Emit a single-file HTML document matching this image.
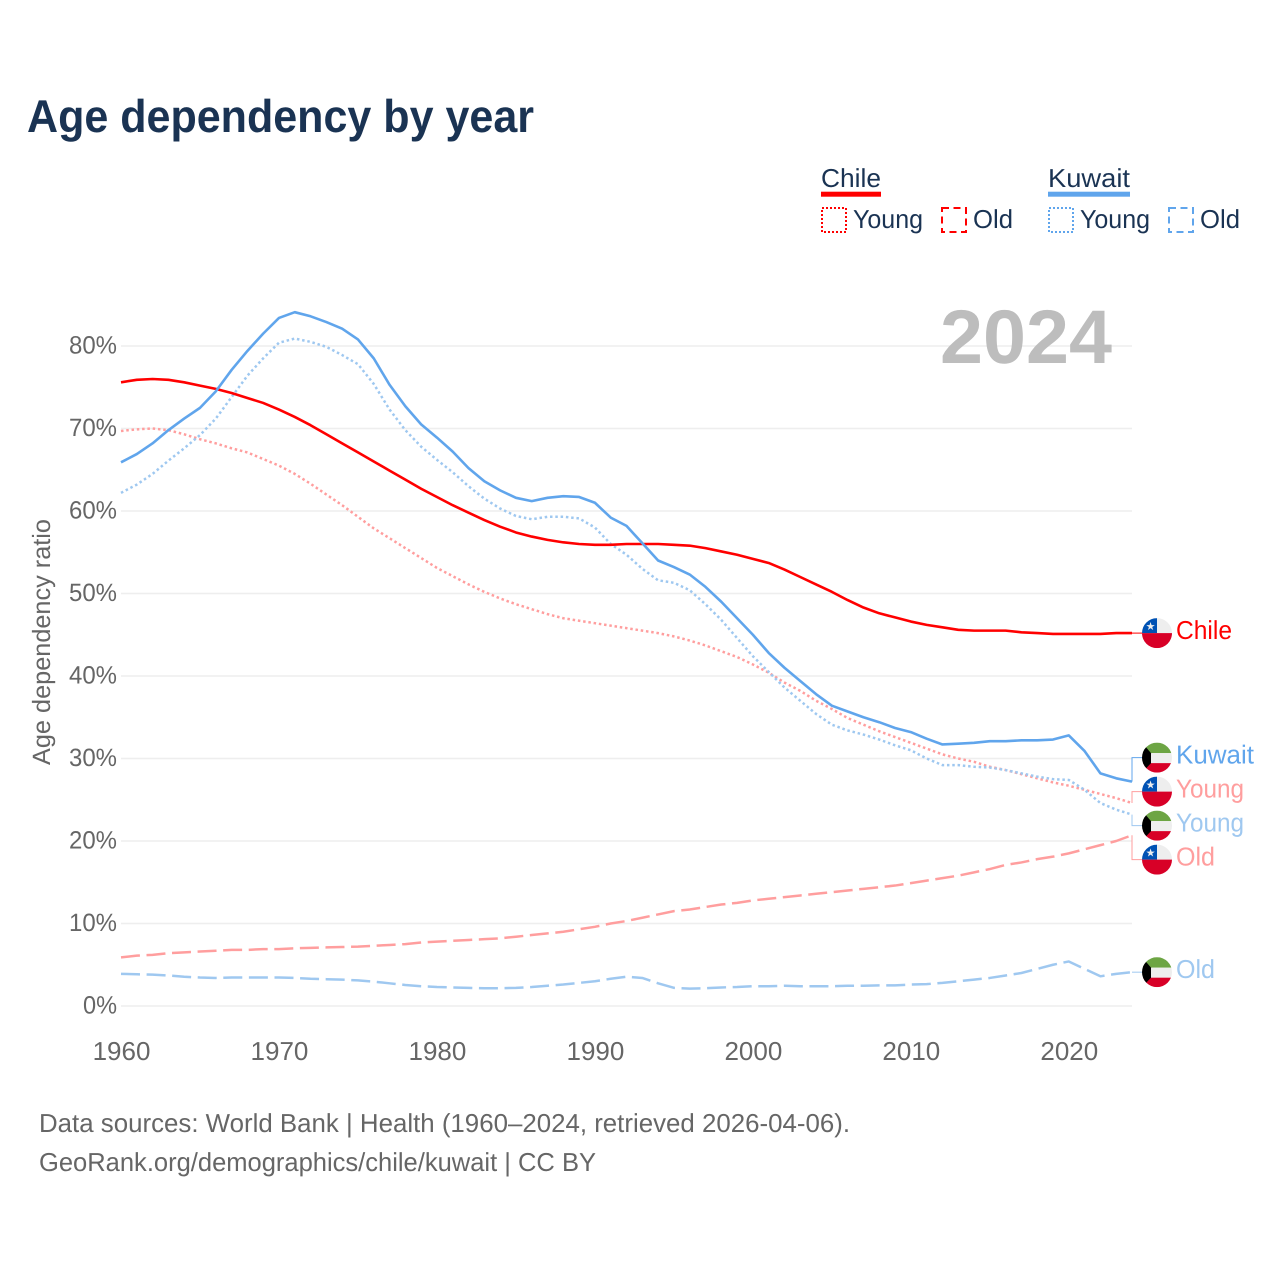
<!DOCTYPE html>
<html lang="en">
<head>
<meta charset="utf-8">
<title>Age dependency by year</title>
<style>
html,body{margin:0;padding:0;background:#fff}
svg{display:block;font-family:"Liberation Sans",sans-serif;text-rendering:geometricPrecision}
</style>
</head>
<body>
<svg id="chart" xmlns="http://www.w3.org/2000/svg" width="1280" height="1280" viewBox="0 0 1280 1280">
  <rect width="1280" height="1280" fill="#fff"/>
  <text x="27" y="132" font-size="46" font-weight="700" fill="#1a3353" textLength="507" lengthAdjust="spacingAndGlyphs">Age dependency by year</text>

  <g font-size="26" fill="#1a3353">
    <text x="821" y="187" textLength="60" lengthAdjust="spacingAndGlyphs">Chile</text>
    <rect x="821" y="191.7" width="60" height="5" fill="#ff0000"/>
    <rect x="822" y="208" width="24" height="24" fill="none" stroke="#ff0000" stroke-width="2" stroke-dasharray="2 2"/>
    <text x="853" y="228" textLength="70" lengthAdjust="spacingAndGlyphs">Young</text>
    <rect x="942" y="208" width="24" height="24" fill="none" stroke="#ff0000" stroke-width="2" stroke-dasharray="7 4.5"/>
    <text x="973" y="228" textLength="40" lengthAdjust="spacingAndGlyphs">Old</text>
    <text x="1048" y="187" textLength="82" lengthAdjust="spacingAndGlyphs">Kuwait</text>
    <rect x="1048" y="191.7" width="82" height="5" fill="#60a5ec"/>
    <rect x="1049" y="208" width="24" height="24" fill="none" stroke="#60a5ec" stroke-width="2" stroke-dasharray="2 2"/>
    <text x="1080" y="228" textLength="70" lengthAdjust="spacingAndGlyphs">Young</text>
    <rect x="1169" y="208" width="24" height="24" fill="none" stroke="#60a5ec" stroke-width="2" stroke-dasharray="7 4.5"/>
    <text x="1200" y="228" textLength="40" lengthAdjust="spacingAndGlyphs">Old</text>
  </g>

  <g id="grid"></g>
  <text x="1112" y="363" text-anchor="end" font-size="76" font-weight="700" fill="#bdbdbd" textLength="172" lengthAdjust="spacingAndGlyphs">2024</text>
  <g id="yticks"></g>
  <g id="xticks"></g>
  <text transform="translate(50,642) rotate(-90)" text-anchor="middle" font-size="25" fill="#666" textLength="246" lengthAdjust="spacingAndGlyphs">Age dependency ratio</text>
  <g id="series"></g>
  <g id="endlabels"></g>

  <text x="39" y="1132" font-size="26" fill="#666" textLength="811" lengthAdjust="spacingAndGlyphs">Data sources: World Bank | Health (1960–2024, retrieved 2026-04-06).</text>
  <text x="39" y="1171" font-size="26" fill="#666" textLength="557" lengthAdjust="spacingAndGlyphs">GeoRank.org/demographics/chile/kuwait | CC BY</text>
</svg>
<script>
const startYear = 1960;
const endYear = 2024;
const yTickValues = [0, 10, 20, 30, 40, 50, 60, 70, 80];
const xTickValues = [1960, 1970, 1980, 1990, 2000, 2010, 2020];

const chileTotal = [75.6,75.9,76.0,75.9,75.6,75.2,74.8,74.3,73.7,73.1,72.3,71.4,70.4,69.3,68.2,67.1,66.0,64.9,63.8,62.7,61.7,60.7,59.8,58.9,58.1,57.4,56.9,56.5,56.2,56.0,55.9,55.9,56.0,56.0,56.0,55.9,55.8,55.5,55.1,54.7,54.2,53.7,52.9,52.0,51.1,50.2,49.2,48.3,47.6,47.1,46.6,46.2,45.9,45.6,45.5,45.5,45.5,45.3,45.2,45.1,45.1,45.1,45.1,45.2,45.2];
const chileYoung = [69.7,69.9,70.0,69.8,69.3,68.7,68.2,67.6,67.1,66.3,65.5,64.5,63.3,62.0,60.7,59.3,57.9,56.7,55.5,54.3,53.1,52.1,51.1,50.2,49.4,48.7,48.1,47.5,47.0,46.7,46.4,46.1,45.8,45.5,45.2,44.8,44.3,43.7,43.0,42.3,41.4,40.4,39.2,38.2,37.0,36.0,34.9,34.1,33.3,32.6,31.9,31.2,30.5,30.0,29.6,29.0,28.6,28.1,27.6,27.1,26.7,26.2,25.7,25.2,24.6];
const chileOld = [5.9,6.1,6.2,6.4,6.5,6.6,6.7,6.8,6.8,6.9,6.9,7.0,7.05,7.1,7.15,7.2,7.3,7.4,7.5,7.7,7.8,7.9,8.0,8.1,8.2,8.4,8.6,8.8,9.0,9.3,9.6,10.0,10.3,10.7,11.1,11.5,11.7,12.0,12.3,12.5,12.8,13.0,13.2,13.4,13.6,13.8,14.0,14.2,14.4,14.6,14.9,15.2,15.5,15.8,16.2,16.6,17.1,17.4,17.8,18.1,18.5,19.0,19.5,20.0,20.7];
const kuwaitTotal = [65.9,66.9,68.2,69.8,71.2,72.5,74.5,77.1,79.4,81.5,83.4,84.1,83.6,82.9,82.1,80.8,78.5,75.3,72.7,70.5,68.9,67.2,65.2,63.6,62.5,61.6,61.2,61.6,61.8,61.7,61.0,59.2,58.2,56.1,54.0,53.2,52.3,50.8,49.0,47.0,45.0,42.8,41.0,39.4,37.8,36.4,35.7,35.0,34.4,33.7,33.2,32.4,31.7,31.8,31.9,32.1,32.1,32.2,32.2,32.3,32.8,30.9,28.2,27.6,27.2];
const kuwaitYoung = [62.2,63.2,64.5,66.1,67.6,69.2,71.2,73.8,76.4,78.5,80.4,80.9,80.5,79.9,78.9,77.8,75.4,72.3,69.8,67.8,66.2,64.7,63.0,61.5,60.3,59.4,59.0,59.3,59.3,59.1,58.0,56.0,54.7,53.0,51.6,51.3,50.4,48.7,46.8,44.6,42.4,40.5,38.6,37.0,35.4,34.1,33.4,32.9,32.3,31.6,31.0,30.0,29.2,29.2,29.0,28.9,28.6,28.2,27.8,27.5,27.4,26.2,24.6,23.8,23.2];
const kuwaitOld = [3.9,3.85,3.8,3.7,3.55,3.45,3.4,3.45,3.45,3.45,3.45,3.4,3.3,3.25,3.2,3.1,2.95,2.75,2.55,2.4,2.3,2.25,2.2,2.15,2.15,2.2,2.3,2.45,2.6,2.8,3.0,3.3,3.55,3.4,2.75,2.2,2.1,2.15,2.25,2.3,2.4,2.4,2.45,2.4,2.4,2.4,2.45,2.45,2.5,2.5,2.6,2.65,2.8,3.0,3.2,3.4,3.7,4.0,4.5,5.0,5.4,4.5,3.6,3.9,4.1];

const NS = 'http://www.w3.org/2000/svg';
const plotLeft = 121, plotRight = 1132, plotZeroY = 1006, pxPerPercent = 8.25;
function xScale(year) { return plotLeft + (year - startYear) * (plotRight - plotLeft) / (endYear - startYear); }
function yScale(v) { return plotZeroY - v * pxPerPercent; }
function make(tag, parent, attrs) {
  const el = document.createElementNS(NS, tag);
  for (const k in attrs) el.setAttribute(k, attrs[k]);
  parent.appendChild(el);
  return el;
}

const gridG = document.getElementById('grid');
const yTicksG = document.getElementById('yticks');
const xTicksG = document.getElementById('xticks');
const seriesG = document.getElementById('series');
const endG = document.getElementById('endlabels');

yTickValues.forEach(function (v) {
  const line = make('line', gridG, {x1: plotLeft, x2: plotRight, y1: yScale(v), y2: yScale(v), stroke: '#eeeeee', 'stroke-width': 1.5});
  
  
  const t = make('text', yTicksG, {x: 117, y: yScale(v) + 7.5, 'text-anchor': 'end', 'font-size': 25, fill: '#666', textLength: v === 0 ? 34 : 48, lengthAdjust: 'spacingAndGlyphs'});
  t.textContent = v + '%';
  
  
});
xTickValues.forEach(function (yr) {
  const t = make('text', xTicksG, {x: xScale(yr) + 0.5, y: 1060, 'text-anchor': 'middle', 'font-size': 26, fill: '#666'});
  t.textContent = yr;
  
  
});

const DOT = '2.5 2.8', DASH = '19 6.6';
const seriesDefs = [
  {id: 'chile-young', label: 'Young', country: 'chile', values: chileYoung, color: '#ff9e9e', width: 2.5, dash: DOT, textLen: 68},
  {id: 'kuwait-young', label: 'Young', country: 'kuwait', values: kuwaitYoung, color: '#9fc8f0', width: 2.5, dash: DOT, textLen: 68},
  {id: 'chile-old', label: 'Old', country: 'chile', values: chileOld, color: '#ff9e9e', width: 2.5, dash: DASH, textLen: 39},
  {id: 'kuwait-old', label: 'Old', country: 'kuwait', values: kuwaitOld, color: '#9fc8f0', width: 2.5, dash: DASH, textLen: 39},
  {id: 'chile-total', label: 'Chile', country: 'chile', values: chileTotal, color: '#ff0000', width: 2.6, dash: null, textLen: 56},
  {id: 'kuwait-total', label: 'Kuwait', country: 'kuwait', values: kuwaitTotal, color: '#60a5ec', width: 2.6, dash: null, textLen: 78}
];

seriesDefs.forEach(function (s) {
  const d = s.values.map(function (v, i) { return (i ? 'L' : 'M') + xScale(startYear + i).toFixed(2) + ' ' + yScale(v).toFixed(2); }).join('');
  const attrs = {d: d, fill: 'none', stroke: s.color, 'stroke-width': s.width, 'stroke-linejoin': 'round'};
  if (s.dash) attrs['stroke-dasharray'] = s.dash;
  const p = make('path', seriesG, attrs);
  
  
});

/* end labels: overlapping labels are merged into evenly spaced, centred groups */
const labelGap = 34;
const ends = seriesDefs.map(function (s) { return {s: s, y0: yScale(s.values[s.values.length - 1])}; }).sort(function (a, b) { return a.y0 - b.y0; });
let groups = ends.map(function (e) { return {items: [e], mean: e.y0}; });
let merged = true;
while (merged) {
  merged = false;
  for (let i = 0; i < groups.length - 1; i++) {
    const a = groups[i], b = groups[i + 1];
    const aBottom = a.mean + (a.items.length - 1) * labelGap / 2;
    const bTop = b.mean - (b.items.length - 1) * labelGap / 2;
    if (bTop - aBottom < labelGap) {
      const items = a.items.concat(b.items);
      const mean = items.reduce(function (t, e) { return t + e.y0; }, 0) / items.length;
      groups.splice(i, 2, {items: items, mean: mean});
      merged = true;
      break;
    }
  }
}
groups.forEach(function (g) {
  g.items.forEach(function (e, i) { e.y = g.mean + (i - (g.items.length - 1) / 2) * labelGap; });
});

const defs = make('defs', endG, {});
const flagX = 1157, flagR = 15;
ends.forEach(function (e, idx) {
  const s = e.s;
  const conn = make('path', endG, {d: 'M' + plotRight + ' ' + e.y0 + 'L' + plotRight + ' ' + e.y + 'L' + (flagX - flagR) + ' ' + e.y, fill: 'none', stroke: s.color, 'stroke-width': 1});
  
  

  const cp = make('clipPath', defs, {id: 'flag-clip-' + idx});
  make('circle', cp, {cx: flagX, cy: e.y, r: flagR});
  const flag = make('g', endG, {'clip-path': 'url(#flag-clip-' + idx + ')'});
  
  
  const L = flagX - flagR, T = e.y - flagR;
  if (s.country === 'chile') {
    make('rect', flag, {x: L, y: T, width: 30, height: 15, fill: '#eeeeee'});
    make('rect', flag, {x: L, y: T, width: 15, height: 15, fill: '#0052b4'});
    make('rect', flag, {x: L, y: e.y, width: 30, height: 15, fill: '#d80027'});
    const star = make('text', flag, {x: L + 8.5, y: T + 12, 'text-anchor': 'middle', 'font-size': 11, fill: '#eeeeee', 'font-family': '"DejaVu Sans",sans-serif'});
    star.textContent = '★';
  } else {
    make('rect', flag, {x: L, y: T, width: 30, height: 10.5, fill: '#6da544'});
    make('rect', flag, {x: L, y: T + 10.5, width: 30, height: 10, fill: '#eeeeee'});
    make('rect', flag, {x: L, y: T + 20.5, width: 30, height: 9.5, fill: '#d80027'});
    make('polygon', flag, {points: L + ',' + T + ' ' + (L + 9) + ',' + (T + 10.5) + ' ' + (L + 9) + ',' + (T + 20.5) + ' ' + L + ',' + (T + 30), fill: '#000'});
  }

  const t = make('text', endG, {x: 1176, y: e.y + 6, 'font-size': 26, fill: s.color, textLength: s.textLen, lengthAdjust: 'spacingAndGlyphs'});
  t.textContent = s.label;
  
  
});
</script>
</body>
</html>
